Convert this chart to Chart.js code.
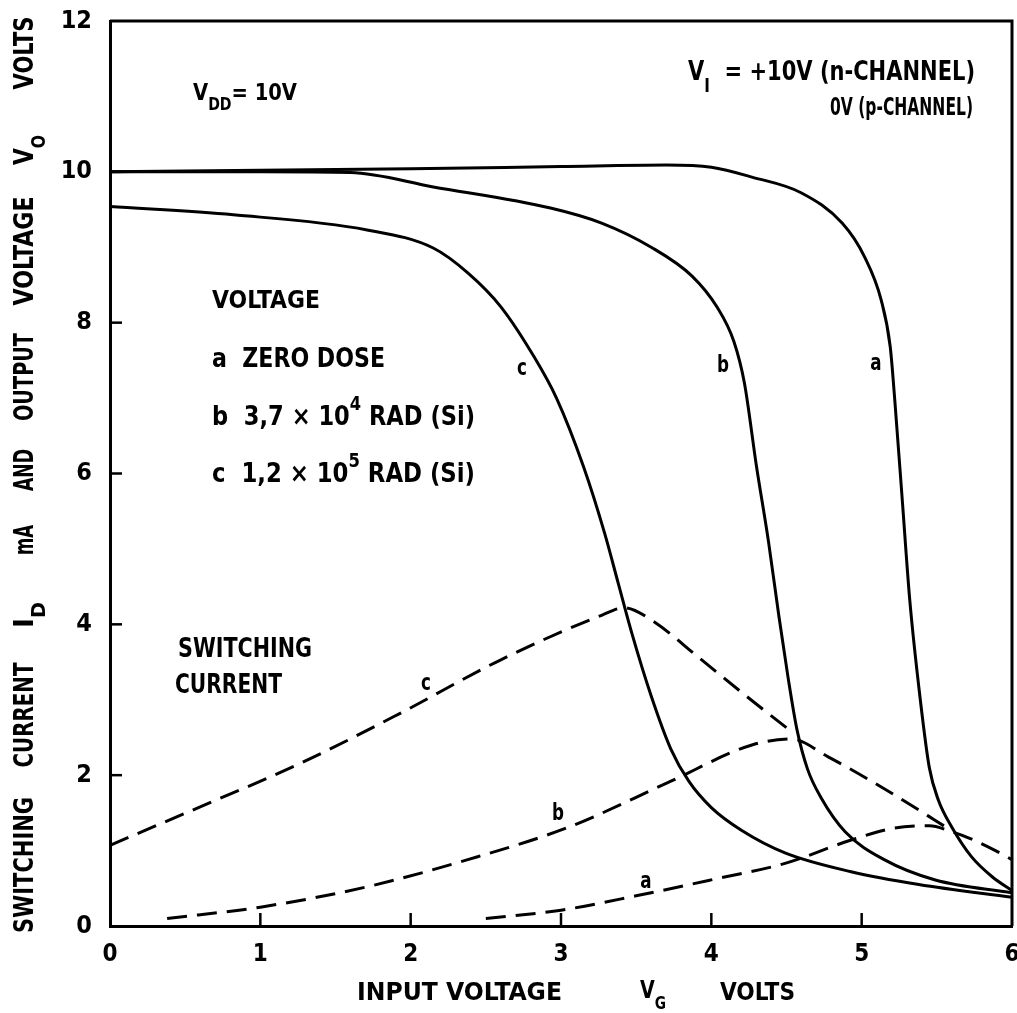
<!DOCTYPE html>
<html><head><meta charset="utf-8">
<script src="https://cdn.jsdelivr.net/npm/chart.js@4/dist/chart.umd.min.js"></script>
<style>html,body{margin:0;padding:0;background:#fff;overflow:hidden;}</style>
</head><body>
<canvas id="c" width="1017" height="1013"></canvas>
<script>
// ---------- data ----------
const xTickValues = [0, 1, 2, 3, 4, 5, 6];
const yTickValues = [0, 2, 4, 6, 8, 10, 12];

// Output voltage V_O (solid)
const voA_x = [0, 1, 2, 3, 3.7, 4.0, 4.27, 4.6, 4.87, 5.02, 5.13, 5.19, 5.22, 5.27, 5.32, 5.39, 5.45, 5.51, 5.6, 5.73, 5.87, 6.0];
const voA_y = [10.0, 10.02, 10.04, 10.07, 10.09, 10.06, 9.93, 9.72, 9.32, 8.87, 8.3, 7.68, 6.98, 5.65, 4.32, 3.0, 2.1, 1.67, 1.31, 0.92, 0.65, 0.47];
const voB_x = [0, 1, 1.6, 2.15, 2.93, 3.27, 3.6, 3.87, 4.04, 4.15, 4.22, 4.3, 4.38, 4.45, 4.51, 4.57, 4.64, 4.73, 4.89, 5.15, 5.49, 6.0];
const voB_y = [10.0, 10.0, 9.99, 9.8, 9.52, 9.32, 9.0, 8.62, 8.2, 7.75, 7.2, 6.1, 5.1, 4.1, 3.3, 2.6, 2.08, 1.7, 1.25, 0.88, 0.61, 0.44];
const voC_x = [0, 0.82, 1.71, 2.15, 2.38, 2.6, 2.82, 2.97, 3.15, 3.29, 3.38, 3.47, 3.6, 3.73, 3.85, 4.0, 4.2, 4.49, 4.93, 5.38, 6.0];
const voC_y = [9.54, 9.43, 9.23, 8.99, 8.66, 8.21, 7.55, 7.0, 6.09, 5.21, 4.55, 3.89, 3.05, 2.35, 1.92, 1.57, 1.27, 0.97, 0.72, 0.55, 0.38];

// Switching current I_D (dashed)
const idC_x = [0, 0.6, 1.27, 1.93, 2.6, 3.27, 3.42, 3.6, 3.91, 4.2, 4.55];
const idC_y = [1.07, 1.58, 2.16, 2.82, 3.53, 4.12, 4.22, 4.06, 3.57, 3.1, 2.55];
const idB_x = [0.38, 1.0, 1.71, 2.38, 3.05, 3.71, 4.27, 4.53, 4.78, 5.15, 5.49, 5.6];
const idB_y = [0.1, 0.25, 0.52, 0.88, 1.31, 1.9, 2.4, 2.48, 2.24, 1.82, 1.4, 1.26];
const idA_x = [2.5, 3.0, 3.5, 4.04, 4.49, 4.93, 5.22, 5.45, 5.6, 5.71, 5.89, 6.0];
const idA_y = [0.1, 0.21, 0.4, 0.63, 0.83, 1.14, 1.3, 1.33, 1.25, 1.17, 1.0, 0.88];

const pts = (xs, ys) => xs.map((x, i) => ({ x: x, y: ys[i] }));

// ---------- text helper (rich text with sub/superscripts) ----------
const FONT = '"DejaVu Sans Condensed","DejaVu Sans",sans-serif';
const WEIGHT = 'bold ';
function drawRich(ctx, runs, x, y, o) {
  const size = o.cap / 0.73;
  const small = size * 0.72;
  ctx.save();
  let natural = 0;
  const widths = runs.map(r => {
    ctx.font = WEIGHT + ((r.sub || r.sup) ? small : size) + 'px ' + FONT;
    const w = ctx.measureText(r.t).width;
    natural += w;
    return w;
  });
  const sx = o.width ? o.width / natural : (o.sx || 0.8);
  ctx.translate(x, y);
  if (o.rot) ctx.rotate(o.rot);
  ctx.scale(sx, 1);
  let cx = o.align === 'center' ? -natural / 2 : (o.align === 'right' ? -natural : 0);
  ctx.textBaseline = 'alphabetic';
  ctx.textAlign = 'left';
  ctx.fillStyle = '#000';
  runs.forEach((r, i) => {
    ctx.font = WEIGHT + ((r.sub || r.sup) ? small : size) + 'px ' + FONT;
    const dy = r.sub ? o.cap * 0.6 : (r.sup ? -o.cap * 0.75 : 0);
    ctx.fillText(r.t, cx, dy);
    cx += widths[i];
  });
  ctx.restore();
}

const T = (t) => ({ t });
const SUB = (t) => ({ t, sub: true });
const SUP = (t) => ({ t, sup: true });

const decor = {
  id: 'decor',
  afterDraw(chart) {
    const ctx = chart.ctx;
    const a = chart.chartArea;
    const xs = chart.scales.x, ys = chart.scales.y;
    ctx.save();
    ctx.strokeStyle = '#000';
    ctx.lineWidth = 3;
    // frame top & right
    ctx.beginPath();
    ctx.moveTo(a.left, a.top); ctx.lineTo(a.right, a.top); ctx.lineTo(a.right, a.bottom);
    ctx.stroke();
    // inward ticks
    ctx.lineWidth = 2.5;
    xTickValues.slice(1, -1).forEach(v => {
      const px = xs.getPixelForValue(v);
      ctx.beginPath(); ctx.moveTo(px, a.bottom); ctx.lineTo(px, a.bottom - 13); ctx.stroke();
    });
    yTickValues.slice(1, -1).forEach(v => {
      const py = ys.getPixelForValue(v);
      ctx.beginPath(); ctx.moveTo(a.left, py); ctx.lineTo(a.left + 12, py); ctx.stroke();
    });
    ctx.restore();

    // annotations
    drawRich(ctx, [T('V'), SUB('DD'), T('= 10V')], 193, 100, { cap: 17, width: 104 });
    drawRich(ctx, [T('V'), SUB('I'), T('  = +10V (n-CHANNEL)')], 688, 80, { cap: 20, width: 287 });
    drawRich(ctx, [T('0V (p-CHANNEL)')], 830, 115, { cap: 18, width: 143 });
    drawRich(ctx, [T('VOLTAGE')], 212, 308, { cap: 18, width: 108 });
    drawRich(ctx, [T('a  ZERO DOSE')], 212, 367, { cap: 20, width: 173 });
    drawRich(ctx, [T('b  3,7 × 10'), SUP('4'), T(' RAD (Si)')], 212, 425, { cap: 20, width: 263 });
    drawRich(ctx, [T('c  1,2 × 10'), SUP('5'), T(' RAD (Si)')], 212, 482, { cap: 20, width: 263 });
    drawRich(ctx, [T('SWITCHING')], 178, 657, { cap: 20, width: 134 });
    drawRich(ctx, [T('CURRENT')], 175, 693, { cap: 20, width: 107 });

    // curve labels
    drawRich(ctx, [T('c')], 522, 375, { cap: 17, align: 'center' });
    drawRich(ctx, [T('b')], 723, 372, { cap: 17, align: 'center' });
    drawRich(ctx, [T('a')], 876, 370, { cap: 17, align: 'center' });
    drawRich(ctx, [T('c')], 426, 690, { cap: 17, align: 'center' });
    drawRich(ctx, [T('b')], 558, 820, { cap: 17, align: 'center' });
    drawRich(ctx, [T('a')], 646, 888, { cap: 17, align: 'center' });

    // x axis title
    drawRich(ctx, [T('INPUT VOLTAGE')], 357, 1000, { cap: 18, width: 205 });
    drawRich(ctx, [T('V'), SUB('G')], 640, 998, { cap: 18, width: 26 });
    drawRich(ctx, [T('VOLTS')], 720, 1000, { cap: 18, width: 75 });

    // y axis title (rotated, reads bottom to top)
    const R = -Math.PI / 2, BX = 33;
    drawRich(ctx, [T('SWITCHING')], BX, 865, { cap: 20, width: 136, align: 'center', rot: R });
    drawRich(ctx, [T('CURRENT')], BX, 715, { cap: 20, width: 105, align: 'center', rot: R });
    drawRich(ctx, [T('I'), SUB('D')], BX, 615, { cap: 20, width: 26, align: 'center', rot: R });
    drawRich(ctx, [T('mA')], BX, 540, { cap: 20, width: 30, align: 'center', rot: R });
    drawRich(ctx, [T('AND')], BX, 470, { cap: 20, width: 42, align: 'center', rot: R });
    drawRich(ctx, [T('OUTPUT')], BX, 377, { cap: 20, width: 88, align: 'center', rot: R });
    drawRich(ctx, [T('VOLTAGE')], BX, 251, { cap: 20, width: 109, align: 'center', rot: R });
    drawRich(ctx, [T('V'), SUB('O')], BX, 150, { cap: 20, width: 30, align: 'center', rot: R });
    drawRich(ctx, [T('VOLTS')], BX, 53, { cap: 20, width: 73, align: 'center', rot: R });
  }
};

const solid = { borderColor: '#000', borderWidth: 3, pointRadius: 0, showLine: true, fill: false, cubicInterpolationMode: 'monotone' };
const dashed = Object.assign({}, solid, { borderDash: [20, 10], borderWidth: 3 });

new Chart(document.getElementById('c'), {
  type: 'scatter',
  data: {
    datasets: [
      Object.assign({ label: 'V_O a', data: pts(voA_x, voA_y) }, solid),
      Object.assign({ label: 'V_O b', data: pts(voB_x, voB_y) }, solid),
      Object.assign({ label: 'V_O c', data: pts(voC_x, voC_y) }, solid),
      Object.assign({ label: 'I_D c', data: pts(idC_x, idC_y) }, dashed),
      Object.assign({ label: 'I_D b', data: pts(idB_x, idB_y) }, dashed),
      Object.assign({ label: 'I_D a', data: pts(idA_x, idA_y) }, dashed)
    ]
  },
  options: {
    responsive: false,
    animation: false,
    events: [],
    layout: { padding: { top: 21, right: 5, left: 0, bottom: 0 } },
    plugins: { legend: { display: false }, tooltip: { enabled: false }, title: { display: false } },
    scales: {
      x: {
        type: 'linear', min: 0, max: 6,
        afterFit(s) { s.height = 87; s.paddingLeft = 0; s.paddingRight = 0; },
        afterBuildTicks(s) { s.ticks = xTickValues.map(v => ({ value: v })); },
        grid: { drawOnChartArea: false, drawTicks: false },
        border: { display: true, color: '#000', width: 3 },
        ticks: { color: '#000', padding: 14, font: { family: FONT, size: 24, weight: 'bold' } }
      },
      y: {
        type: 'linear', min: 0, max: 12,
        afterFit(s) { s.width = 110; s.paddingTop = 0; s.paddingBottom = 0; },
        afterBuildTicks(s) { s.ticks = yTickValues.map(v => ({ value: v })); },
        grid: { drawOnChartArea: false, drawTicks: false },
        border: { display: true, color: '#000', width: 3 },
        ticks: { color: '#000', padding: 18, font: { family: FONT, size: 25, weight: 'bold' } }
      }
    }
  },
  plugins: [decor]
});
</script>
</body></html>
